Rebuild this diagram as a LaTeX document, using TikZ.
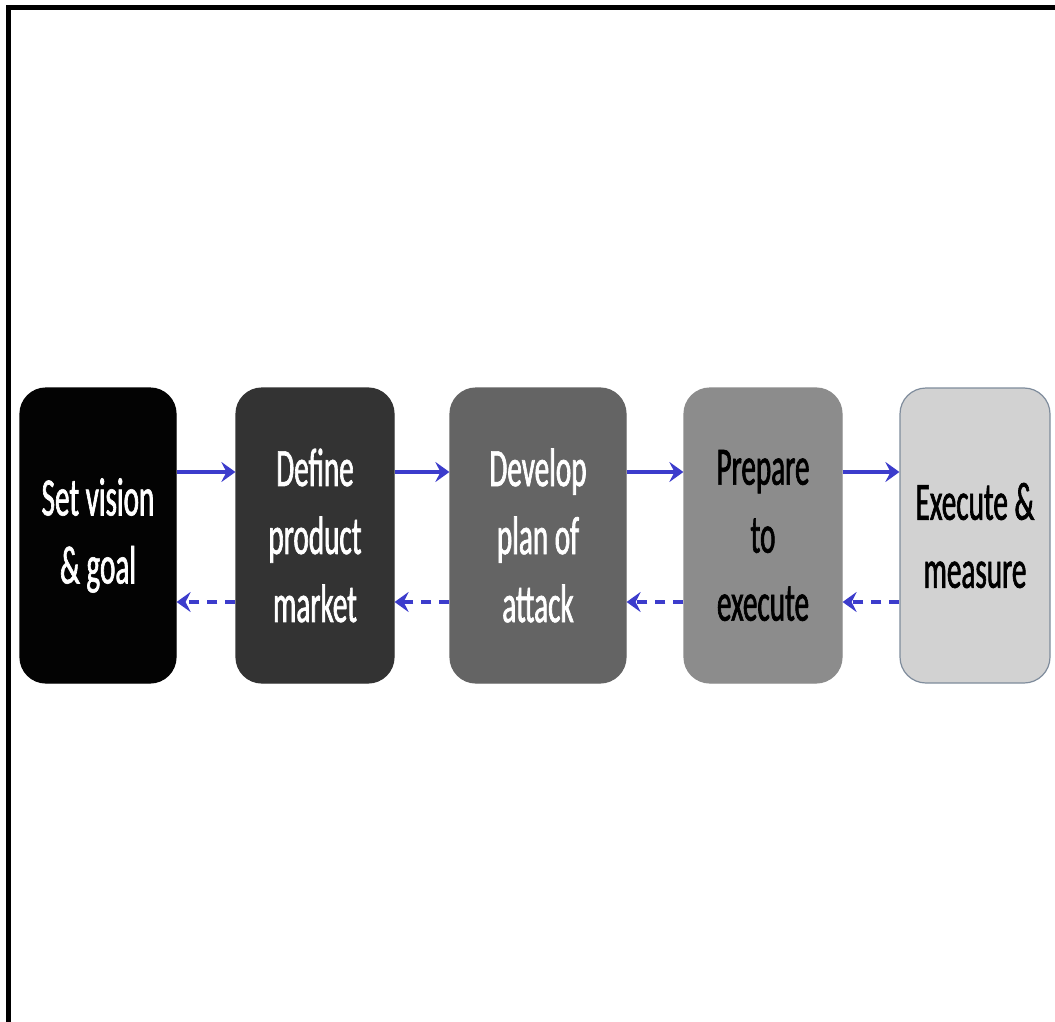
\documentclass[tikz,border=0pt]{standalone}
\usepackage{fontspec}
\setmainfont{Carlito}[FakeStretch=0.54,FakeBold=1.2]
\usetikzlibrary{arrows.meta}
\definecolor{arrowblue}{HTML}{3C3CCC}
\definecolor{cA}{HTML}{030303}
\definecolor{cB}{HTML}{333333}
\definecolor{cC}{HTML}{646464}
\definecolor{cD}{HTML}{8C8C8C}
\definecolor{cE}{HTML}{D2D2D2}
\definecolor{edgeE}{HTML}{7F8C9C}
\tikzset{
  stage/.style={rectangle, rounded corners=26pt, minimum height=295pt,
    align=center, inner sep=0pt, line width=1.2pt,
    font=\fontsize{54}{68}\selectfont},
  fwd/.style={draw=arrowblue, line width=3.5pt, -{Stealth[length=14pt,width=20pt,inset=5pt]}},
  bwd/.style={draw=arrowblue, line width=3.5pt, dash pattern=on 10pt off 8pt, -{Stealth[length=14pt,width=20pt,inset=5pt]}},
  framerule/.style={line width=5pt, black}
}
\begin{document}
\begin{tikzpicture}[x=1pt,y=-1pt]
\useasboundingbox (0,0) rectangle (1055,1022);
\fill[white] (0,0) rectangle (1055,1022);
\coordinate (tl) at (8,8);
\coordinate (tr) at (1055,8);
\coordinate (bl) at (8,1022);
\draw[framerule, line cap=rect] (tr) -- (tl) -- (bl);

\node[stage, fill=cA, draw=cA, minimum width=156pt, text=white] (s1) at (98,535.5) {Set vision\\\& goal};
\node[stage, fill=cB, draw=cB, minimum width=158pt, text=white] (s2) at (315,535.5) {Define\\product\\market};
\node[stage, fill=cC, draw=cC, minimum width=176pt, text=white] (s3) at (538,535.5) {Develop\\plan of\\attack};
\node[stage, fill=cD, draw=cD, minimum width=158pt, text=black] (s4) at (763,535.5) {Prepare\\to\\execute};
\node[stage, fill=cE, draw=edgeE, minimum width=150pt, text=black] (s5) at (975,535.5) {Execute \&\\measure};

\foreach \a/\b in {s1/s2, s2/s3, s3/s4, s4/s5}{
  \draw[fwd] ([yshift=63.5pt]\a.east) -- ([yshift=63.5pt]\b.west);
  \draw[bwd] ([yshift=-66.5pt]\b.west) -- ([yshift=-66.5pt]\a.east);
}
\end{tikzpicture}
\end{document}
